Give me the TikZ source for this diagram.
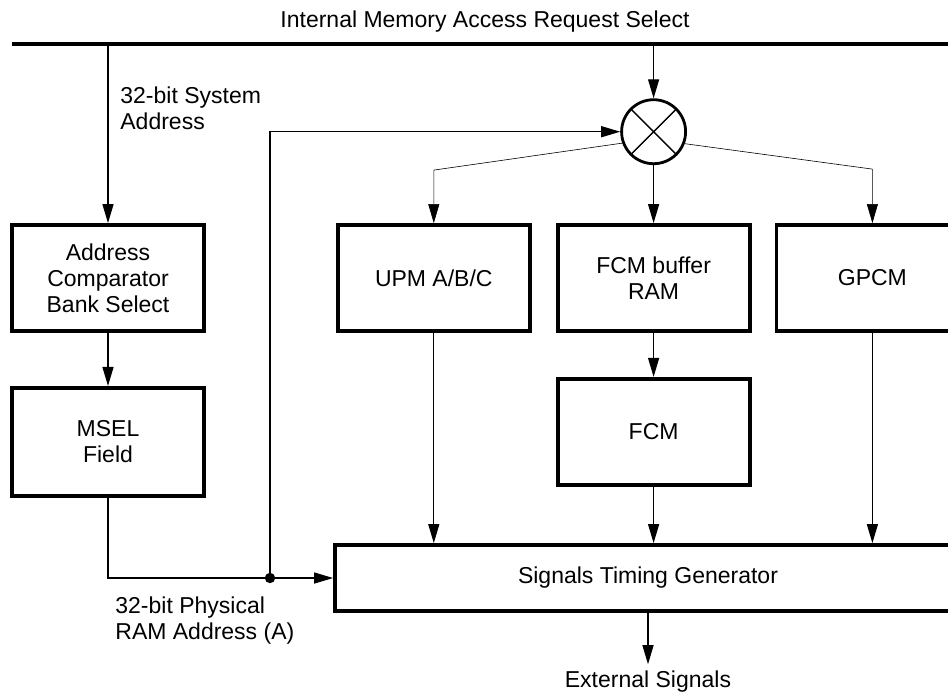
\documentclass[tikz,border=0pt]{standalone}
\usepackage{fontspec}
\setmainfont{Liberation Sans}
\usetikzlibrary{arrows.meta,positioning}

\begin{document}
\begin{tikzpicture}[
    x=0.5pt,y=-0.5pt,
    font=\fontsize{11.5}{13}\selectfont,
    blk/.style={draw,line width=1.9pt,minimum width=96pt,minimum height=53pt,align=center,inner sep=2pt},
    lbl/.style={align=left,inner sep=0pt,anchor=west},
    arrow/.style={-{Triangle[length=9.5pt,width=5.5pt]},line width=0.65pt},
    fan/.style={arrow,line width=0.3pt},
    bus/.style={line width=2pt},
    mux/.style={draw,circle,line width=1.4pt,minimum size=32pt,inner sep=0pt,
      path picture={\draw[line width=0.7pt] (path picture bounding box.north west) -- (path picture bounding box.south east)
        (path picture bounding box.south west) -- (path picture bounding box.north east);}}
  ]
    \path[use as bounding box,clip] (0,0) rectangle (948,693);
    % bus and its label
    \coordinate (busL) at (12,44);
    \coordinate (busR) at (990,44);
    \draw[bus] (busL) -- (busR);
    \node (title) at (485,22) {Internal Memory Access Request Select};
    % blocks
    \node[blk] (addr) at (108,278) {Address\\Comparator\\Bank Select};
    \node[blk,below=26.5pt of addr,minimum height=54pt] (msel) {MSEL\\Field};
    \node[blk,right=65pt of addr] (upm) {UPM A/B/C};
    \node[blk,right=12pt of upm] (fcmbuf) {FCM buffer\\RAM};
    \node[blk,right=11.5pt of fcmbuf] (gpcm) {GPCM};
    \node[blk,below=22pt of fcmbuf] (fcm) {FCM};
    \node[blk,minimum width=313pt,minimum height=33pt] (stg) at (648,578) {Signals Timing Generator};
    \node[mux,above=29pt of fcmbuf] (mux) {};
    \node (ext) at (648,682) {External Signals};
    \node[lbl] (syslbl) at (120,108) {32-bit System\\Address};
    \node[lbl] (physlbl) at (115,621) {32-bit Physical\\RAM Address (A)};
    \coordinate (tap) at (270,578);
    % connectors
    \draw[arrow] (addr.north |- busL) -- (addr);
    \draw[arrow] (mux.north |- busL) -- (mux);
    \draw[arrow] (addr) -- (msel);
    \draw[arrow] (msel.south) |- (stg.west);
    \fill (tap) circle (2.6pt);
    \draw[arrow] (tap) |- (mux.west);
    \draw[fan] (mux.200) -- ([yshift=26.5pt]upm.north) -- (upm.north);
    \draw[arrow] (mux) -- (fcmbuf);
    \draw[fan] (mux.-21) -- ([yshift=27pt]gpcm.north) -- (gpcm.north);
    \draw[arrow] (upm.south) -- (upm.south |- stg.north);
    \draw[arrow] (fcmbuf) -- (fcm);
    \draw[arrow] (fcm) -- (fcm |- stg.north);
    \draw[arrow] (gpcm.south) -- (gpcm.south |- stg.north);
    \draw[arrow] (stg.south) -- (ext);
  \end{tikzpicture}
\end{document}
